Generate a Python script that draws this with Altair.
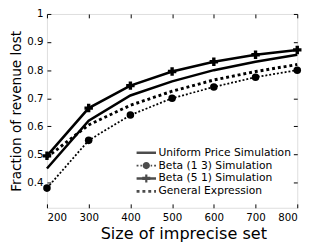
import altair as alt
import pandas as pd

sizes = [200, 300, 400, 500, 600, 700, 800]
uniform = [0.45, 0.62, 0.71, 0.76, 0.80, 0.83, 0.855]
beta13 = [0.38, 0.55, 0.64, 0.70, 0.74, 0.775, 0.80]
beta51 = [0.495, 0.665, 0.745, 0.795, 0.83, 0.855, 0.872]
general = [0.49, 0.605, 0.675, 0.725, 0.765, 0.795, 0.82]

series_names = ["Uniform Price Simulation", "Beta (1 3) Simulation",
                "Beta (5 1) Simulation", "General Expression"]
x_ticks = [200, 300, 400, 500, 600, 700, 800]
y_ticks = [0.4, 0.5, 0.6, 0.7, 0.8, 0.9, 1.0]

rows = []
for name, vals in zip(series_names, [uniform, beta13, beta51, general]):
    for s, v in zip(sizes, vals):
        rows.append({"size": s, "frac": v, "series": name})
df = pd.DataFrame(rows)

FONT = "DejaVu Sans"
xs = alt.Scale(domain=[200, 800], nice=False, zero=False)
ys = alt.Scale(domain=[0.31, 1.0], nice=False, zero=False)

common = dict(domain=False, grid=False, tickColor="black", tickWidth=1,
              tickSize=4, offset=-4, labelFont=FONT, labelFontSize=10.5,
              labelColor="black")

x_bottom = alt.Axis(values=x_ticks, title="Size of imprecise set", labelPadding=5,
                    titlePadding=3, titleX=140, titleFont=FONT, titleFontSize=16.5,
                    titleFontWeight="normal", titleColor="black", **common)
y_left = alt.Axis(values=y_ticks, format=".1~f", title="Fraction of revenue lost",
                  labelPadding=4, titlePadding=3, titleFont=FONT, titleFontSize=14,
                  titleFontWeight="normal", titleColor="black", **common)
x_top = alt.Axis(values=x_ticks, orient="top", labels=False, title=None, **common)
y_right = alt.Axis(values=y_ticks, orient="right", labels=False, title=None, **common)

base = alt.Chart(df)

solid = base.transform_filter(
    (alt.datum.series == series_names[0]) | (alt.datum.series == series_names[2])
).mark_line(color="black", strokeWidth=2.6).encode(
    x=alt.X("size:Q", scale=xs, axis=x_bottom),
    y=alt.Y("frac:Q", scale=ys, axis=y_left),
    detail="series:N",
)

dashdot = base.transform_filter(alt.datum.series == series_names[1]).mark_line(
    color="black", strokeWidth=1.8, strokeDash=[2, 2]
).encode(
    x=alt.X("size:Q", scale=xs, axis=None),
    y=alt.Y("frac:Q", scale=ys, axis=None),
)

dotted = base.transform_filter(alt.datum.series == series_names[3]).mark_line(
    color="black", strokeWidth=3, strokeDash=[3, 3]
).encode(
    x=alt.X("size:Q", scale=xs, axis=None),
    y=alt.Y("frac:Q", scale=ys, axis=None),
)

points = base.transform_filter(
    (alt.datum.series == series_names[1]) | (alt.datum.series == series_names[2])
).mark_point(filled=True, color="black", opacity=1).encode(
    x=alt.X("size:Q", scale=xs, axis=x_top),
    y=alt.Y("frac:Q", scale=ys, axis=y_right),
    shape=alt.Shape("series:N", scale=alt.Scale(domain=[series_names[1], series_names[2]],
                                                range=["circle", "cross"]), legend=None),
    size=alt.Size("series:N", scale=alt.Scale(domain=[series_names[1], series_names[2]],
                                              range=[60, 75]), legend=None),
)

# legend symbols (custom paths), unit = 7.5 px
p_uniform = "M-1.33,-0.17H1.33V0.17H-1.33Z"
p_beta13 = ("M-1.33,-0.11H-1.07V0.11H-1.33Z M-0.8,-0.11H-0.6V0.11H-0.8Z "
            "M0.6,-0.11H0.8V0.11H0.6Z M1.07,-0.11H1.33V0.11H1.07Z "
            "M-0.5,0A0.5,0.5,0,1,1,0.5,0A0.5,0.5,0,1,1,-0.5,0Z")
p_beta51 = ("M-1.33,-0.17H1.33V0.17H-1.33Z M-0.15,-0.55H0.15V0.55H-0.15Z "
            "M-0.55,-0.22H0.55V0.22H-0.55Z")
p_general = ("M-1.33,-0.19H-0.93V0.19H-1.33Z M-0.53,-0.19H-0.13V0.19H-0.53Z "
             "M0.27,-0.19H0.67V0.19H0.27Z M1.07,-0.19H1.33V0.19H1.07Z")

legend_layer = base.transform_filter(alt.datum.size < 0).mark_point(
    filled=True, color="black"
).encode(
    x=alt.X("size:Q", scale=xs, axis=None),
    y=alt.Y("frac:Q", scale=ys, axis=None),
    shape=alt.Shape("series:N",
                    scale=alt.Scale(domain=series_names,
                                    range=[p_uniform, p_beta13, p_beta51, p_general]),
                    legend=alt.Legend(orient="none", legendX=94.5, legendY=135,
                                      title=None, symbolSize=225, symbolStrokeWidth=0,
                                      symbolFillColor="black", labelFont=FONT,
                                      labelFontSize=11, labelColor="black",
                                      labelOffset=5, rowPadding=0.2, padding=0)),
)

chart = alt.layer(solid, dashdot, dotted, points, legend_layer).resolve_scale(
    shape="independent", size="independent"
).resolve_axis(x="independent", y="independent").properties(
    width=257, height=199,
    autosize=alt.AutoSizeParams(type="none"),
    padding={"left": 40, "top": 3, "right": 10, "bottom": 32},
).configure_view(stroke="black", strokeWidth=1.2).configure(background="white")

chart.save("out.html", embed_options={"renderer": "svg", "actions": False})
